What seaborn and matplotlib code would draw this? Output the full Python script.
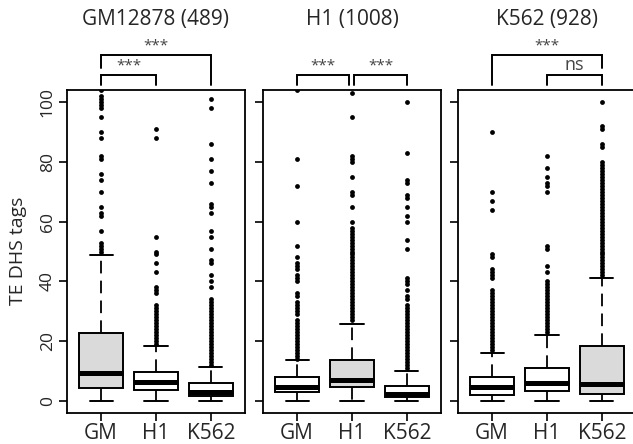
import matplotlib
matplotlib.use("Agg")
import matplotlib.pyplot as plt
import seaborn as sns
import pandas as pd

# ---------------- data ----------------
panel_titles = ["GM12878 (489)", "H1 (1008)", "K562 (928)"]
groups = ["GM", "H1", "K562"]
highlight = ["GM", "H1", "K562"]          # shaded group in each panel
y_ticks = [0, 20, 40, 60, 80, 100]

# box statistics per panel, ordered GM, H1, K562
whis_lo = [[0, 0, 0], [0, 0, 0], [0, 0, 0]]
q1 = [[4.4, 3.7, 1.7], [3.1, 4.8, 1.4], [2.0, 3.4, 2.3]]
med = [[9.3, 6.2, 3.1], [4.6, 7.2, 2.5], [4.6, 6.1, 5.7]]
q3 = [[22.8, 9.8, 5.9], [7.9, 13.7, 5.0], [8.0, 11.1, 18.4]]
whis_hi = [[48.8, 18.4, 11.5], [13.7, 25.8, 10.0], [16.0, 22.0, 41.0]]

# outliers per panel, ordered GM, H1, K562
out_p1_gm = [50, 51, 52, 53, 57, 62, 63, 65, 70, 74, 76, 81, 82, 88, 90, 95,
             98, 99, 100, 101, 102, 104]
out_p1_h1 = [19, 20, 21, 22, 23, 24, 25, 26, 27, 28, 29, 30, 31, 32, 36, 37,
             38, 43, 46, 49, 50, 55, 88, 91]
out_p1_k562 = [12, 13, 14, 15, 16, 17, 18, 19, 20, 21, 22, 23, 24, 25, 26, 27,
               28, 29, 30, 31, 32, 33, 34, 38, 40, 42, 46, 47, 51, 55, 57, 63,
               65, 66, 73, 77, 81, 86, 98, 101]
out_p2_gm = [14, 15, 16, 17, 18, 19, 20, 21, 22, 23, 24, 25, 26, 27, 29, 30,
             31, 32, 33, 35, 36, 40, 41, 42, 44, 45, 46, 48, 52, 60, 72, 81, 104]
out_p2_h1 = [27, 28, 29, 30, 31, 32, 33, 34, 35, 36, 37, 38, 39, 40, 41, 42,
             43, 44, 45, 46, 47, 48, 49, 50, 51, 52, 53, 54, 55, 56, 57, 58,
             60, 65, 69, 70, 75, 80, 81, 82, 95, 103, 105]
out_p2_k562 = [11, 12, 13, 14, 15, 16, 17, 18, 19, 20, 21, 22, 23, 24, 25, 26,
               27, 28, 29, 30, 31, 32, 34, 35, 37, 39, 40, 41, 51, 54, 60, 62,
               65, 68, 69, 73, 74, 83, 100]
out_p3_gm = [17, 18, 19, 20, 21, 22, 23, 24, 25, 26, 27, 28, 29, 30, 31, 32,
             33, 34, 35, 36, 37, 41, 42, 43, 44, 48, 49, 64, 67, 70, 90]
out_p3_h1 = [23, 24, 25, 26, 27, 28, 29, 30, 31, 32, 33, 34, 35, 36, 37, 38,
             39, 40, 43, 45, 51, 52, 70, 72, 73, 75, 78, 82]
out_p3_k562 = [42, 43, 44, 45, 46, 47, 48, 49, 50, 51, 52, 53, 54, 55, 56, 57,
               58, 59, 60, 61, 62, 63, 64, 65, 66, 67, 68, 69, 70, 71, 72, 73,
               74, 75, 76, 77, 78, 79, 80, 85, 86, 91, 92, 100]
outliers = [[out_p1_gm, out_p1_h1, out_p1_k562],
            [out_p2_gm, out_p2_h1, out_p2_k562],
            [out_p3_gm, out_p3_h1, out_p3_k562]]

# significance tests per panel: (group a, group b, label, level)
tests = [
    [("GM", "H1", "***", 0), ("GM", "K562", "***", 1)],
    [("GM", "H1", "***", 0), ("H1", "K562", "***", 0)],
    [("H1", "K562", "ns", 0), ("GM", "K562", "***", 1)],
]

# ---------------- style ----------------
sns.set_theme(style="white")
plt.rcParams["font.family"] = ["Open Sans", "DejaVu Sans"]
plt.rcParams["axes.linewidth"] = 1.3

fig = plt.figure(figsize=(6.33, 4.44), dpi=100)
W, H = 633, 444
ax_left_px = [67, 263, 458]
ax_w_px = 178
ax_top_px, ax_bot_px = 90, 413

positions = [1, 2, 3]
pos_of = dict(zip(groups, positions))

for p in range(3):
    ax = fig.add_axes([ax_left_px[p] / W, 1 - ax_bot_px / H,
                       ax_w_px / W, (ax_bot_px - ax_top_px) / H])
    stats = []
    for g in range(3):
        stats.append(dict(whislo=whis_lo[p][g], q1=q1[p][g], med=med[p][g],
                          q3=q3[p][g], whishi=whis_hi[p][g], fliers=[]))
    bp = ax.bxp(stats, positions=positions, widths=0.8, patch_artist=True,
                showfliers=False,
                boxprops=dict(edgecolor="black", linewidth=1.4),
                medianprops=dict(color="black", linewidth=3.6, solid_capstyle="butt"),
                whiskerprops=dict(color="black", linewidth=1.3, linestyle=(0, (7, 4))),
                capprops=dict(color="black", linewidth=1.4),
                capwidths=0.42)
    for g, patch in enumerate(bp["boxes"]):
        patch.set_facecolor("#dadada" if groups[g] == highlight[p] else "white")

    rows = []
    for g in range(3):
        for v in outliers[p][g]:
            rows.append({"pos": positions[g], "value": v})
    df = pd.DataFrame(rows)
    sns.scatterplot(data=df, x="pos", y="value", ax=ax, color="black", s=12,
                    linewidth=0, legend=False, zorder=3)

    ax.set_xlim(0.38, 3.62)
    ax.set_ylim(-4, 104)
    ax.set_xticks(positions)
    ax.set_xticklabels(groups, fontsize=15)
    ax.set_xlabel("")
    ax.set_ylabel("")
    ax.set_yticks(y_ticks)
    if p == 0:
        ax.set_yticklabels([str(t) for t in y_ticks], rotation=90, va="center",
                           fontsize=12.5)
    else:
        ax.set_yticklabels([])
    ax.tick_params(axis="both", direction="out", length=6, width=1.2,
                   color="black", left=True, bottom=True, pad=2)
    ax.tick_params(axis="x", pad=1)
    for s in ax.spines.values():
        s.set_color("black")
        s.set_linewidth(1.3)

    # significance brackets
    low_y, top0, top1, short_y = 105.6, 109.0, 115.7, 111.3
    for (a, b, lab, lvl) in tests[p]:
        xa, xb = pos_of[a], pos_of[b]
        if p == 1:
            if a == "GM":
                xb -= 0.06
            else:
                xa += 0.04
        if lvl == 0:
            ax.plot([xa, xa, xb, xb], [low_y, top0, top0, low_y], color="black",
                    lw=1.4, clip_on=False, solid_joinstyle="miter")
            ty = 112.2
        else:
            if p == 0:
                ys = [short_y, top1, top1, low_y]
            else:
                ys = [low_y, top1, top1, short_y]
            ax.plot([xa, xa, xb, xb], ys, color="black", lw=1.4, clip_on=False,
                    solid_joinstyle="miter")
            ty = 118.6
        ax.text((xa + xb) / 2, ty, lab, ha="center", va="center",
                fontsize=13 if lab == "ns" else 11, color="#444444", clip_on=False)

    fig.text((ax_left_px[p] + ax_w_px / 2) / W, 1 - 19 / H, panel_titles[p],
             ha="center", va="center", fontsize=15)

fig.text(18 / W, 1 - 251 / H, "TE DHS tags", rotation=90, ha="center",
         va="center", fontsize=14)

fig.savefig("out.png", dpi=100)
